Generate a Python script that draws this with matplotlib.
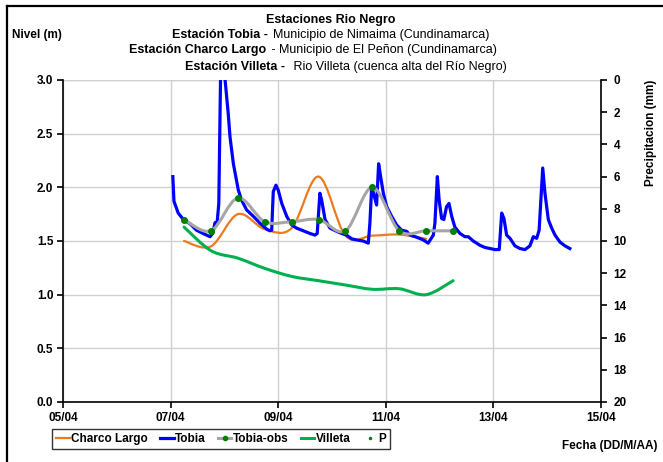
import numpy as np
import matplotlib
matplotlib.use("Agg")
import matplotlib.pyplot as plt
import matplotlib.dates as mdates
from matplotlib.path import Path
from matplotlib.patches import PathPatch
from matplotlib.lines import Line2D
from datetime import datetime, timedelta

plt.rcParams['font.family'] = ['Liberation Sans', 'DejaVu Sans']

# Hours counted from 07/04 00:00
base = datetime(2011, 4, 7)

tobia_h = [1, 1.5, 3.4, 5.7, 8.7, 11.6, 14.5, 17.6, 18.9, 19.8, 20.8, 21.5, 22.5,
           24.3, 25.7, 26.5, 28.0, 30.2, 31.7, 33.9, 36.9, 39.9, 42.9, 44.3, 45.1,
           45.8, 47.0, 48.0, 49.6, 51.8, 54.0, 56.2, 59.2, 62.2, 64.4, 65.4, 66.6,
           67.4, 68.9, 71.1, 74.1, 76.3, 78.5, 80.8, 83.0, 85.9, 88.2, 88.9, 89.7,
           90.7, 91.9, 92.8, 93.7, 94.9, 96.4, 98.6, 100.8, 103.1, 105.3, 106.8,
           109.8, 112.7, 114.9, 117.2, 117.9, 119.0, 119.8, 120.9, 121.9, 123.1,
           124.2, 125.4, 126.8, 129.1, 131.3, 132.8, 135.0, 138.0, 140.2, 142.5,
           144.7, 146.6, 147.7, 148.7, 149.9, 151.4, 153.6, 155.8, 158.1, 160.3,
           161.8, 163.3, 164.4, 166.0, 167.0, 168.5, 170.0, 171.5, 173.7, 175.9, 178.1]
tobia = [2.10, 1.87, 1.76, 1.70, 1.66, 1.60, 1.57, 1.54, 1.575, 1.67, 1.68, 1.85, 3.35,
         3.0, 2.69, 2.47, 2.22, 1.975, 1.88, 1.79, 1.73, 1.665, 1.61, 1.595, 1.60,
         1.96, 2.02, 1.975, 1.85, 1.73, 1.65, 1.62, 1.595, 1.57, 1.555, 1.57, 1.945,
         1.88, 1.70, 1.62, 1.59, 1.57, 1.555, 1.52, 1.51, 1.50, 1.48, 1.665, 2.005,
         1.93, 1.835, 2.22, 2.10, 1.945, 1.82, 1.73, 1.65, 1.60, 1.59, 1.555,
         1.535, 1.51, 1.48, 1.555, 1.665, 2.10, 1.88, 1.71, 1.70, 1.82,
         1.85, 1.73, 1.63, 1.57, 1.54, 1.54, 1.50, 1.46, 1.44, 1.43,
         1.42, 1.42, 1.76, 1.71, 1.555, 1.525, 1.455, 1.43, 1.42, 1.455,
         1.54, 1.525, 1.60, 2.18, 1.945, 1.70, 1.62, 1.555, 1.49, 1.455, 1.43]

obs_h = [6, 18, 30, 42, 54, 66, 78, 90, 102, 114, 126]
tobia_obs = [1.70, 1.595, 1.90, 1.68, 1.68, 1.70, 1.595, 2.00, 1.595, 1.595, 1.595]

charco_h = [6, 18, 30, 42, 54, 66, 78, 90, 102, 114]
charco = [1.50, 1.45, 1.75, 1.61, 1.62, 2.10, 1.55, 1.55, 1.56, 1.52]

villeta_h = [6, 18, 30, 42, 54, 66, 78, 90, 102, 114, 126]
villeta = [1.63, 1.41, 1.34, 1.245, 1.17, 1.13, 1.09, 1.05, 1.055, 1.00, 1.13]

precip = []  # P: no values shown


def to_num(hours):
    return mdates.date2num([base + timedelta(hours=h) for h in hours])


def smooth_patch(x, y, color, lw, z):
    # Excel-like smoothed line: Bezier through the points
    x = np.asarray(x, float)
    y = np.asarray(y, float)
    verts = [(x[0], y[0])]
    codes = [Path.MOVETO]
    n = len(x)
    for i in range(n - 1):
        p0 = i - 1 if i > 0 else i
        p3 = i + 2 if i + 2 < n else i + 1
        c1 = (x[i] + (x[i + 1] - x[p0]) / 6, y[i] + (y[i + 1] - y[p0]) / 6)
        c2 = (x[i + 1] - (x[p3] - x[i]) / 6, y[i + 1] - (y[p3] - y[i]) / 6)
        verts += [c1, c2, (x[i + 1], y[i + 1])]
        codes += [Path.CURVE4] * 3
    return PathPatch(Path(verts, codes), facecolor='none', edgecolor=color,
                     lw=lw, zorder=z, capstyle='round', joinstyle='round')


c_orange = '#EC7A1E'
c_blue = '#0000FF'
c_gray = '#A6A6A6'
c_green = '#00B050'
c_dot = '#008000'

fig = plt.figure(figsize=(6.63, 4.62), dpi=100)
ax = fig.add_axes([63 / 663, 1 - 402 / 462, (601 - 63) / 663, (402 - 80) / 462])

ax.add_patch(smooth_patch(to_num(charco_h), charco, c_orange, 1.6, 3))
ax.plot(to_num(tobia_h), tobia, color=c_blue, lw=2.3, zorder=4)
ax.add_patch(smooth_patch(to_num(obs_h), tobia_obs, c_gray, 2.2, 5))
ax.plot(to_num(obs_h), tobia_obs, ls='none', marker='o', ms=4, color=c_dot, zorder=6)
ax.add_patch(smooth_patch(to_num(villeta_h), villeta, c_green, 2.2, 3))

ax.set_xlim(mdates.date2num(datetime(2011, 4, 5)), mdates.date2num(datetime(2011, 4, 15)))
ax.set_ylim(0, 3.0)
ax.xaxis.set_major_locator(mdates.DayLocator(bymonthday=[5, 7, 9, 11, 13, 15]))
ax.xaxis.set_major_formatter(mdates.DateFormatter('%d/%m'))
ax.set_yticks(np.arange(0, 3.01, 0.5))
ax.yaxis.set_major_formatter(matplotlib.ticker.FormatStrFormatter('%.1f'))
ax.grid(True, color='#D0D0D0', lw=1.0)
ax.set_axisbelow(True)
for s in ['top', 'right']:
    ax.spines[s].set_visible(False)
for s in ['left', 'bottom']:
    ax.spines[s].set_linewidth(1.2)
ax.tick_params(axis='both', direction='out', length=4, width=1.2, labelsize=8.5, pad=3)
for lab in ax.get_xticklabels() + ax.get_yticklabels():
    lab.set_fontweight('bold')
ax.axhline(3.0, color='#D0D0D0', lw=1.0, zorder=0)

ax2 = ax.twinx()
ax2.set_ylim(20, 0)
ax2.set_yticks(np.arange(0, 21, 2))
ax2.plot([], [], ls='none', marker='.', ms=3, color=c_dot)
for s in ['top', 'left', 'bottom']:
    ax2.spines[s].set_visible(False)
ax2.spines['right'].set_linewidth(1.2)
ax2.tick_params(axis='y', direction='out', length=4, width=1.2, labelsize=8.5, pad=5)
for lab in ax2.get_yticklabels():
    lab.set_fontweight('bold')

# axis titles
fig.text(12 / 663, 1 - 35 / 462, 'Nivel (m)', fontsize=8.5, fontweight='bold', va='center')
fig.text(651 / 663, 1 - 133 / 462, 'Precipitacion (mm)', fontsize=8.5, fontweight='bold',
         rotation=90, ha='center', va='center')
fig.text(657 / 663, 1 - 446 / 462, 'Fecha (DD/M/AA)', fontsize=8.5, fontweight='bold',
         ha='right', va='center')

# title block
tsize = 9
fig.text(331 / 663, 1 - 20 / 462, 'Estaciones Rio Negro', fontsize=tsize, fontweight='bold',
         ha='center', va='center')
title_lines = [
    (172, 35, 'Estación Tobia - ', 'Municipio de Nimaima (Cundinamarca)'),
    (129, 50, 'Estación Charco Largo', ' - Municipio de El Peñon (Cundinamarca)'),
    (185, 67, 'Estación Villeta - ', ' Rio Villeta (cuenca alta del Río Negro)'),
]
fig.canvas.draw()
renderer = fig.canvas.get_renderer()
for x0, y0, bold, normal in title_lines:
    t = fig.text(x0 / 663, 1 - y0 / 462, bold, fontsize=tsize, fontweight='bold', va='center')
    bb = t.get_window_extent(renderer)
    fig.text(bb.x1 / 663 + 2 / 663, 1 - y0 / 462, normal, fontsize=tsize, va='center')

# legend
handles = [
    Line2D([], [], color=c_orange, lw=1.6),
    Line2D([], [], color=c_blue, lw=2.3),
    Line2D([], [], color=c_gray, lw=2.2, marker='o', ms=3, mfc=c_dot, mec=c_dot),
    Line2D([], [], color=c_green, lw=2.2),
    Line2D([], [], ls='none', marker='.', ms=3, color=c_dot),
]
labels = ['Charco Largo', 'Tobia', 'Tobia-obs', 'Villeta', 'P']
leg = fig.legend(handles, labels, loc='center', ncol=5,
                 bbox_to_anchor=(221 / 663, 1 - 439 / 462),
                 prop={'weight': 'bold', 'size': 8.5}, frameon=True, fancybox=False,
                 edgecolor='black', handlelength=1.15, handletextpad=0.15,
                 columnspacing=1.0, borderpad=0.35)
leg.get_frame().set_linewidth(1.0)

# page frame
fig.add_artist(Line2D([7 / 663, 7 / 663], [0, 1 - 6 / 462], color='black', lw=1.6))
fig.add_artist(Line2D([7 / 663, 1], [1 - 6 / 462, 1 - 6 / 462], color='black', lw=1.6))

fig.savefig('out.png', dpi=100)
